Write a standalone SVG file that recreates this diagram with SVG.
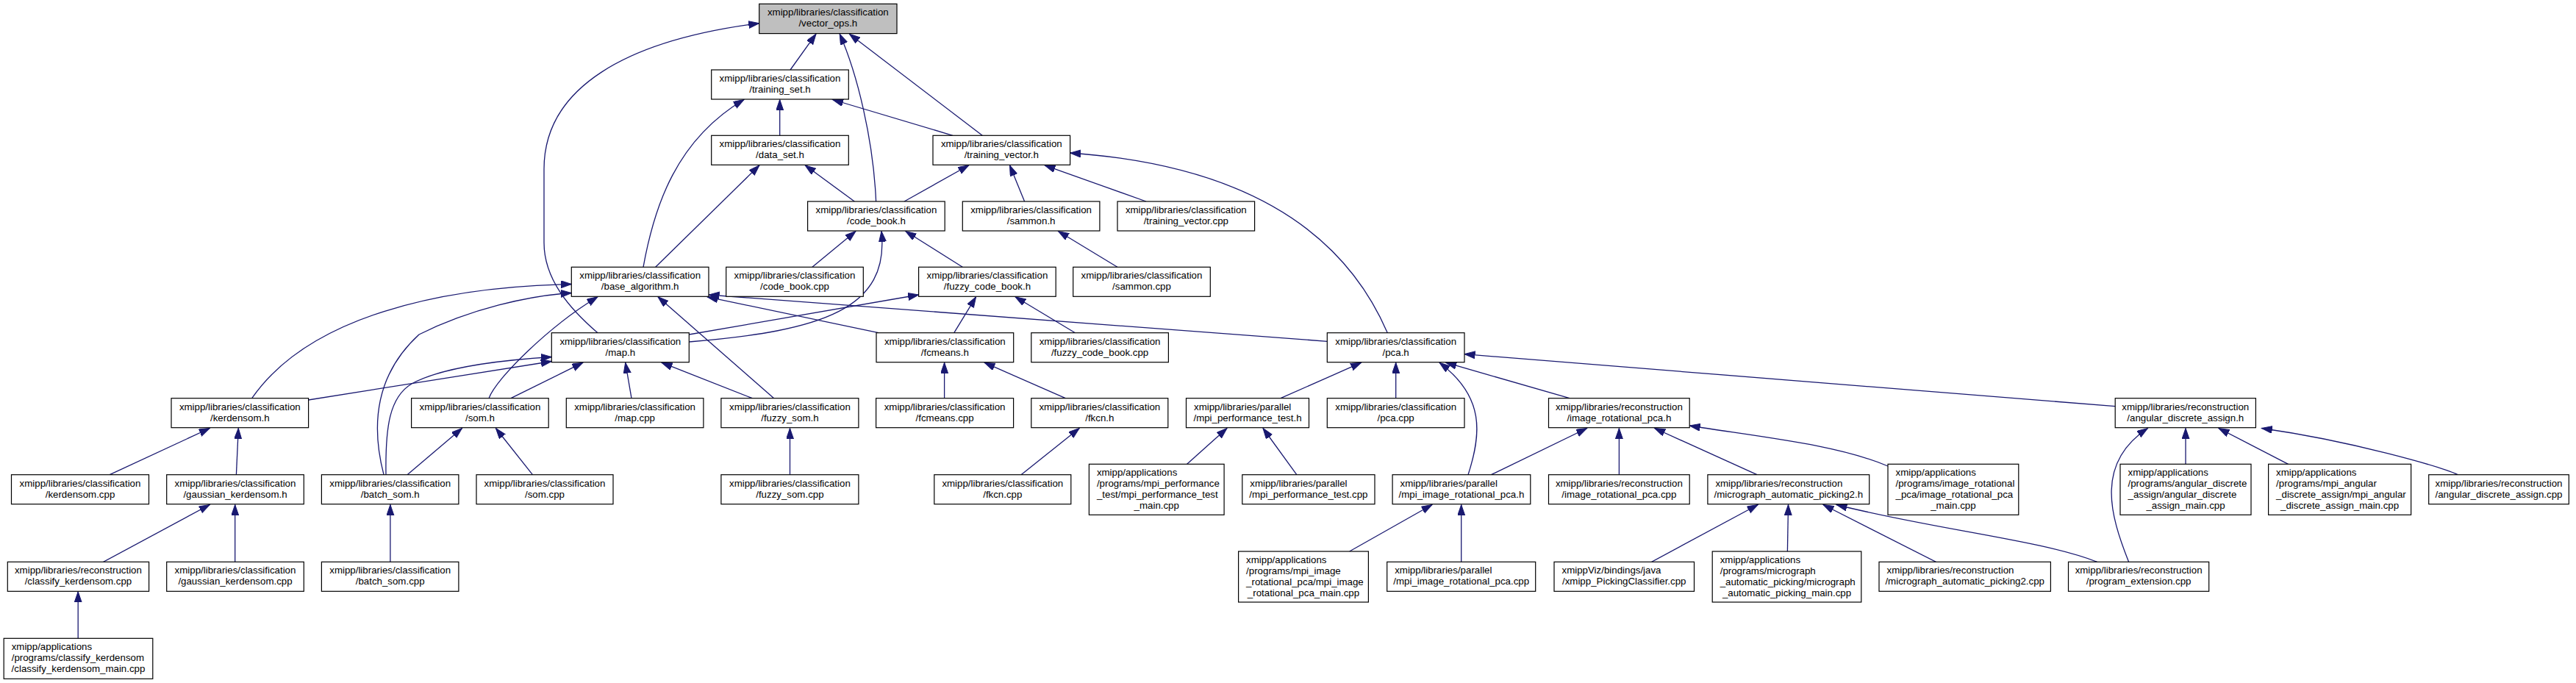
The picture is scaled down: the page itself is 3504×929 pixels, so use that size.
<svg xmlns="http://www.w3.org/2000/svg" width="3504" height="929" viewBox="0 0 3504 929">
<style>
.n rect{fill:#fff;stroke:#000;stroke-width:1.2}
.n.root rect{fill:#bfbfbf}
.n text{font-family:"Liberation Sans",Arial,Helvetica,sans-serif;font-size:13.3px;fill:#000}
.c{text-anchor:middle}
.e path{fill:none;stroke:#191970;stroke-width:1.3;marker-end:url(#ah)}
</style>
<defs>
<marker id="ah" markerUnits="userSpaceOnUse" markerWidth="16" markerHeight="12" refX="14.5" refY="5" orient="auto"><path d="M0,0 L14.5,5 L0,10 z" fill="#191970" stroke="#191970" stroke-width="1"/></marker>
</defs>
<rect width="3504" height="929" fill="#fff"/>
<g id="edges" class="e">
<path d="M1075,95 L1110,46.2"/>
<path d="M1191.6,274 C1188,190 1166,100 1142.2,46.2"/>
<path d="M1336.2,184.3 L1155.4,46.2"/>
<path d="M813,452.7 C775,420 740,380 740,330 L740,230 C740,120 850,55 1032.7,31.7"/>
<path d="M1060.7,184.3 L1060.7,135.5"/>
<path d="M875,363.3 C890,280 920,190 1012,135.5"/>
<path d="M1296,184.3 L1132.5,135.5"/>
<path d="M891.7,363.3 L1033,224.8"/>
<path d="M1162.3,274 L1095.2,224.8"/>
<path d="M1230,274 L1317.9,224.8"/>
<path d="M1393.6,274 L1373.5,224.8"/>
<path d="M1559,274 L1421,224.8"/>
<path d="M1887.3,452.7 C1830,320 1700,225 1455.6,208"/>
<path d="M1104.9,363.3 L1164,314.5"/>
<path d="M1309.3,363.3 L1231.8,314.5"/>
<path d="M937.3,465 C1120,450 1210,420 1199,314.5"/>
<path d="M1519.9,363.3 L1439.5,314.5"/>
<path d="M937.3,455 L1249.6,401"/>
<path d="M1297.8,452.7 L1327.6,403.8"/>
<path d="M1462.5,452.7 L1381,403.8"/>
<path d="M1195,452.7 L962,403.8"/>
<path d="M1805.3,464.3 L964,401"/>
<path d="M1052.7,541.7 L895,403.8"/>
<path d="M1023.3,541.7 L900,493.2"/>
<path d="M859,541.7 L850.7,493.2"/>
<path d="M695,541.7 L793,493.2"/>
<path d="M419.6,544 L750.3,491.5"/>
<path d="M525,645.7 C524,580 530,540 560,522 C600,500 680,490 750.3,485.5"/>
<path d="M522,645.7 C505,580 510,510 570,455 C640,420 720,402 777.3,398.5"/>
<path d="M342.7,541.7 C420,430 600,390 777.3,386.5"/>
<path d="M665,541.7 C675,515 745,445 813,403.8"/>
<path d="M554,645.7 L628.5,582.5"/>
<path d="M724.4,645.7 L674.4,582.5"/>
<path d="M149.2,645.7 L285.3,582.5"/>
<path d="M321.4,645.7 L324.3,582.5"/>
<path d="M140.6,764.3 L285.3,686.5"/>
<path d="M319.7,764.3 L319.7,686.5"/>
<path d="M530.9,764.3 L530.9,686.5"/>
<path d="M106.2,868.3 L106.2,804.8"/>
<path d="M1074.5,645.7 L1074.5,582.5"/>
<path d="M1284.6,541.7 L1284.6,493.2"/>
<path d="M1449.3,541.7 L1339,493.2"/>
<path d="M1389,645.7 L1468.2,582.5"/>
<path d="M1742,541.7 L1851.7,493.2"/>
<path d="M1614.6,631.3 L1669,582.5"/>
<path d="M1763.8,645.7 L1718,582.5"/>
<path d="M1898.7,541.7 L1898.7,493.2"/>
<path d="M1997,645.7 C2015,590 2020,540 1958,493.2"/>
<path d="M2135,541.7 L1966.7,493.2"/>
<path d="M2877.2,552.7 L1992,481.7"/>
<path d="M2028.4,645.7 L2158.7,582.5"/>
<path d="M2202.4,645.7 L2202.4,582.5"/>
<path d="M2390,645.7 L2250.6,582.5"/>
<path d="M2568,634 C2500,605 2400,595 2298.2,579"/>
<path d="M1835.6,750 L1948,686.5"/>
<path d="M1987.7,764.3 L1987.7,686.5"/>
<path d="M2246.6,764.3 L2391.2,686.5"/>
<path d="M2431.4,750 L2432.5,686.5"/>
<path d="M2633.4,764.3 L2480,686.5"/>
<path d="M2852.5,764.3 C2780,735 2630,720 2498,686.5"/>
<path d="M2895.6,764.3 C2870,700 2850,630 2921.4,582.5"/>
<path d="M2973,631.3 L2973,582.5"/>
<path d="M3112.6,631.3 L3017.9,582.5"/>
<path d="M3343.3,645.7 C3320,635 3200,600 3076.4,582.5"/>
</g>
<g id="vector_ops_h" class="n root"><rect x="1032.7" y="5.3" width="187.3" height="40.3"/><text class="c" x="1126.35" y="21.4">xmipp/libraries/classification</text><text class="c" x="1126.35" y="36.4">/vector_ops.h</text></g>
<g id="training_set_h" class="n"><rect x="967.7" y="95" width="186.6" height="40"/><text class="c" x="1061" y="111">xmipp/libraries/classification</text><text class="c" x="1061" y="126">/training_set.h</text></g>
<g id="data_set_h" class="n"><rect x="967.7" y="184.3" width="186.6" height="40"/><text class="c" x="1061" y="200.3">xmipp/libraries/classification</text><text class="c" x="1061" y="215.3">/data_set.h</text></g>
<g id="training_vector_h" class="n"><rect x="1269" y="184.3" width="186.6" height="40"/><text class="c" x="1362.3" y="200.3">xmipp/libraries/classification</text><text class="c" x="1362.3" y="215.3">/training_vector.h</text></g>
<g id="code_book_h" class="n"><rect x="1098.6" y="274" width="186.6" height="40"/><text class="c" x="1191.9" y="290">xmipp/libraries/classification</text><text class="c" x="1191.9" y="305">/code_book.h</text></g>
<g id="sammon_h" class="n"><rect x="1309.3" y="274" width="186.6" height="40"/><text class="c" x="1402.6" y="290">xmipp/libraries/classification</text><text class="c" x="1402.6" y="305">/sammon.h</text></g>
<g id="training_vector_cpp" class="n"><rect x="1520" y="274" width="186.6" height="40"/><text class="c" x="1613.3" y="290">xmipp/libraries/classification</text><text class="c" x="1613.3" y="305">/training_vector.cpp</text></g>
<g id="base_algorithm_h" class="n"><rect x="777.3" y="363.3" width="186.7" height="40"/><text class="c" x="870.65" y="379.3">xmipp/libraries/classification</text><text class="c" x="870.65" y="394.3">/base_algorithm.h</text></g>
<g id="code_book_cpp" class="n"><rect x="987.7" y="363.3" width="186.6" height="40"/><text class="c" x="1081" y="379.3">xmipp/libraries/classification</text><text class="c" x="1081" y="394.3">/code_book.cpp</text></g>
<g id="fuzzy_code_book_h" class="n"><rect x="1249.6" y="363.3" width="186.6" height="40"/><text class="c" x="1342.9" y="379.3">xmipp/libraries/classification</text><text class="c" x="1342.9" y="394.3">/fuzzy_code_book.h</text></g>
<g id="sammon_cpp" class="n"><rect x="1459.7" y="363.3" width="186.6" height="40"/><text class="c" x="1553" y="379.3">xmipp/libraries/classification</text><text class="c" x="1553" y="394.3">/sammon.cpp</text></g>
<g id="map_h" class="n"><rect x="750.3" y="452.7" width="187" height="40"/><text class="c" x="843.8" y="468.7">xmipp/libraries/classification</text><text class="c" x="843.8" y="483.7">/map.h</text></g>
<g id="fcmeans_h" class="n"><rect x="1192" y="452.7" width="186.7" height="40"/><text class="c" x="1285.35" y="468.7">xmipp/libraries/classification</text><text class="c" x="1285.35" y="483.7">/fcmeans.h</text></g>
<g id="fuzzy_code_book_cpp" class="n"><rect x="1402.8" y="452.7" width="186.6" height="40"/><text class="c" x="1496.1" y="468.7">xmipp/libraries/classification</text><text class="c" x="1496.1" y="483.7">/fuzzy_code_book.cpp</text></g>
<g id="pca_h" class="n"><rect x="1805.3" y="452.7" width="186.7" height="40"/><text class="c" x="1898.65" y="468.7">xmipp/libraries/classification</text><text class="c" x="1898.65" y="483.7">/pca.h</text></g>
<g id="kerdensom_h" class="n"><rect x="233" y="541.7" width="186.6" height="40"/><text class="c" x="326.3" y="557.7">xmipp/libraries/classification</text><text class="c" x="326.3" y="572.7">/kerdensom.h</text></g>
<g id="som_h" class="n"><rect x="559.6" y="541.7" width="186.6" height="40"/><text class="c" x="652.9" y="557.7">xmipp/libraries/classification</text><text class="c" x="652.9" y="572.7">/som.h</text></g>
<g id="map_cpp" class="n"><rect x="770.3" y="541.7" width="186.6" height="40"/><text class="c" x="863.6" y="557.7">xmipp/libraries/classification</text><text class="c" x="863.6" y="572.7">/map.cpp</text></g>
<g id="fuzzy_som_h" class="n"><rect x="980.9" y="541.7" width="187" height="40"/><text class="c" x="1074.4" y="557.7">xmipp/libraries/classification</text><text class="c" x="1074.4" y="572.7">/fuzzy_som.h</text></g>
<g id="fcmeans_cpp" class="n"><rect x="1191.6" y="541.7" width="187" height="40"/><text class="c" x="1285.1" y="557.7">xmipp/libraries/classification</text><text class="c" x="1285.1" y="572.7">/fcmeans.cpp</text></g>
<g id="fkcn_h" class="n"><rect x="1402.8" y="541.7" width="186" height="40"/><text class="c" x="1495.8" y="557.7">xmipp/libraries/classification</text><text class="c" x="1495.8" y="572.7">/fkcn.h</text></g>
<g id="mpi_performance_test_h" class="n"><rect x="1613.5" y="541.7" width="167" height="40"/><text x="1624" y="557.7">xmipp/libraries/parallel</text><text class="c" x="1697" y="572.7">/mpi_performance_test.h</text></g>
<g id="pca_cpp" class="n"><rect x="1805.3" y="541.7" width="186.7" height="40"/><text class="c" x="1898.65" y="557.7">xmipp/libraries/classification</text><text class="c" x="1898.65" y="572.7">/pca.cpp</text></g>
<g id="image_rotational_pca_h" class="n"><rect x="2106.5" y="541.7" width="191.7" height="40"/><text class="c" x="2202.35" y="557.7">xmipp/libraries/reconstruction</text><text class="c" x="2202.35" y="572.7">/image_rotational_pca.h</text></g>
<g id="angular_discrete_assign_h" class="n"><rect x="2877.2" y="541.7" width="191.2" height="40"/><text class="c" x="2972.8" y="557.7">xmipp/libraries/reconstruction</text><text class="c" x="2972.8" y="572.7">/angular_discrete_assign.h</text></g>
<g id="kerdensom_cpp" class="n"><rect x="15.5" y="645.7" width="187" height="40"/><text class="c" x="109" y="661.7">xmipp/libraries/classification</text><text class="c" x="109" y="676.7">/kerdensom.cpp</text></g>
<g id="gaussian_kerdensom_h" class="n"><rect x="226.7" y="645.7" width="186.6" height="40"/><text class="c" x="320" y="661.7">xmipp/libraries/classification</text><text class="c" x="320" y="676.7">/gaussian_kerdensom.h</text></g>
<g id="batch_som_h" class="n"><rect x="437.4" y="645.7" width="186.5" height="40"/><text class="c" x="530.65" y="661.7">xmipp/libraries/classification</text><text class="c" x="530.65" y="676.7">/batch_som.h</text></g>
<g id="som_cpp" class="n"><rect x="648" y="645.7" width="186" height="40"/><text class="c" x="741" y="661.7">xmipp/libraries/classification</text><text class="c" x="741" y="676.7">/som.cpp</text></g>
<g id="fuzzy_som_cpp" class="n"><rect x="980.9" y="645.7" width="187" height="40"/><text class="c" x="1074.4" y="661.7">xmipp/libraries/classification</text><text class="c" x="1074.4" y="676.7">/fuzzy_som.cpp</text></g>
<g id="fkcn_cpp" class="n"><rect x="1270.8" y="645.7" width="186" height="40"/><text class="c" x="1363.8" y="661.7">xmipp/libraries/classification</text><text class="c" x="1363.8" y="676.7">/fkcn.cpp</text></g>
<g id="mpi_performance_test_main_cpp" class="n"><rect x="1481.4" y="631.3" width="183.7" height="69"/><text x="1491.9" y="646.8">xmipp/applications</text><text x="1491.9" y="661.8">/programs/mpi_performance</text><text x="1491.9" y="676.8">_test/mpi_performance_test</text><text class="c" x="1573.25" y="691.8">_main.cpp</text></g>
<g id="mpi_performance_test_cpp" class="n"><rect x="1689.8" y="645.7" width="180.2" height="40"/><text x="1700.3" y="661.7">xmipp/libraries/parallel</text><text class="c" x="1779.9" y="676.7">/mpi_performance_test.cpp</text></g>
<g id="mpi_image_rotational_pca_h" class="n"><rect x="1894.1" y="645.7" width="187.7" height="40"/><text x="1904.6" y="661.7">xmipp/libraries/parallel</text><text class="c" x="1987.95" y="676.7">/mpi_image_rotational_pca.h</text></g>
<g id="image_rotational_pca_cpp" class="n"><rect x="2106.5" y="645.7" width="191.7" height="40"/><text class="c" x="2202.35" y="661.7">xmipp/libraries/reconstruction</text><text class="c" x="2202.35" y="676.7">/image_rotational_pca.cpp</text></g>
<g id="micrograph_automatic_picking2_h" class="n"><rect x="2322.9" y="645.7" width="219.8" height="40"/><text x="2333.4" y="661.7">xmipp/libraries/reconstruction</text><text class="c" x="2432.8" y="676.7">/micrograph_automatic_picking2.h</text></g>
<g id="image_rotational_pca_main_cpp" class="n"><rect x="2568" y="631.3" width="177.8" height="69"/><text x="2578.5" y="646.8">xmipp/applications</text><text x="2578.5" y="661.8">/programs/image_rotational</text><text x="2578.5" y="676.8">_pca/image_rotational_pca</text><text class="c" x="2656.9" y="691.8">_main.cpp</text></g>
<g id="angular_discrete_assign_main_cpp" class="n"><rect x="2884" y="631.3" width="178" height="69"/><text x="2894.5" y="646.8">xmipp/applications</text><text x="2894.5" y="661.8">/programs/angular_discrete</text><text x="2894.5" y="676.8">_assign/angular_discrete</text><text class="c" x="2973" y="691.8">_assign_main.cpp</text></g>
<g id="mpi_angular_discrete_assign_main_cpp" class="n"><rect x="3085.6" y="631.3" width="194" height="69"/><text x="3096.1" y="646.8">xmipp/applications</text><text x="3096.1" y="661.8">/programs/mpi_angular</text><text x="3096.1" y="676.8">_discrete_assign/mpi_angular</text><text class="c" x="3182.6" y="691.8">_discrete_assign_main.cpp</text></g>
<g id="angular_discrete_assign_cpp" class="n"><rect x="3303.7" y="645.7" width="190.6" height="40"/><text class="c" x="3399" y="661.7">xmipp/libraries/reconstruction</text><text class="c" x="3399" y="676.7">/angular_discrete_assign.cpp</text></g>
<g id="classify_kerdensom_cpp" class="n"><rect x="10.3" y="764.3" width="192.3" height="40"/><text class="c" x="106.45" y="780.3">xmipp/libraries/reconstruction</text><text class="c" x="106.45" y="795.3">/classify_kerdensom.cpp</text></g>
<g id="gaussian_kerdensom_cpp" class="n"><rect x="226.7" y="764.3" width="186.6" height="40"/><text class="c" x="320" y="780.3">xmipp/libraries/classification</text><text class="c" x="320" y="795.3">/gaussian_kerdensom.cpp</text></g>
<g id="batch_som_cpp" class="n"><rect x="437.4" y="764.3" width="186.5" height="40"/><text class="c" x="530.65" y="780.3">xmipp/libraries/classification</text><text class="c" x="530.65" y="795.3">/batch_som.cpp</text></g>
<g id="mpi_image_rotational_pca_main_cpp" class="n"><rect x="1684.6" y="750" width="176.8" height="69"/><text x="1695.1" y="765.5">xmipp/applications</text><text x="1695.1" y="780.5">/programs/mpi_image</text><text x="1695.1" y="795.5">_rotational_pca/mpi_image</text><text class="c" x="1773" y="810.5">_rotational_pca_main.cpp</text></g>
<g id="mpi_image_rotational_pca_cpp" class="n"><rect x="1886.7" y="764.3" width="202" height="40"/><text x="1897.2" y="780.3">xmipp/libraries/parallel</text><text class="c" x="1987.7" y="795.3">/mpi_image_rotational_pca.cpp</text></g>
<g id="xmipp_PickingClassifier_cpp" class="n"><rect x="2114" y="764.3" width="190.5" height="40"/><text x="2124.5" y="780.3">xmippViz/bindings/java</text><text class="c" x="2209.25" y="795.3">/xmipp_PickingClassifier.cpp</text></g>
<g id="micrograph_automatic_picking_main_cpp" class="n"><rect x="2329.2" y="750" width="202.6" height="69"/><text x="2339.7" y="765.5">xmipp/applications</text><text x="2339.7" y="780.5">/programs/micrograph</text><text x="2339.7" y="795.5">_automatic_picking/micrograph</text><text class="c" x="2430.5" y="810.5">_automatic_picking_main.cpp</text></g>
<g id="micrograph_automatic_picking2_cpp" class="n"><rect x="2556" y="764.3" width="233.4" height="40"/><text x="2566.5" y="780.3">xmipp/libraries/reconstruction</text><text class="c" x="2672.7" y="795.3">/micrograph_automatic_picking2.cpp</text></g>
<g id="program_extension_cpp" class="n"><rect x="2813.5" y="764.3" width="191.2" height="40"/><text class="c" x="2909.1" y="780.3">xmipp/libraries/reconstruction</text><text class="c" x="2909.1" y="795.3">/program_extension.cpp</text></g>
<g id="classify_kerdensom_main_cpp" class="n"><rect x="5.2" y="868.3" width="202.6" height="55"/><text x="15.7" y="884.3">xmipp/applications</text><text x="15.7" y="899.3">/programs/classify_kerdensom</text><text class="c" x="106.5" y="914.3">/classify_kerdensom_main.cpp</text></g>
</svg>
